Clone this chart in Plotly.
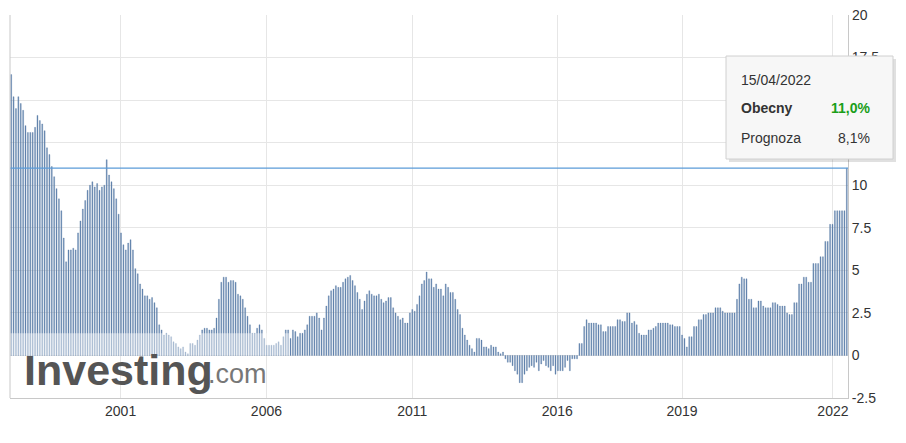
import plotly.graph_objects as go

# monthly CPI y/y (%) left to right
seg1 = [16.5, 15.2, 14.5, 15.2, 14.8, 14.4, 13.5, 13.1, 13.1, 13.1, 13.4, 14.1, 13.8, 13.6,
        13.2, 12.2, 11.8, 11.1, 10.5, 9.8, 9.2, 8.5, 6.9, 5.5, 6.2, 6.2, 6.3, 6.2, 7.2, 7.9,
        8.6, 9.1, 9.7, 10.0, 10.2, 9.9, 10.1, 9.7, 9.9, 10.0, 11.5, 10.6, 10.2, 9.8, 9.2, 8.3,
        7.2, 6.5, 6.2, 6.6, 6.8, 6.2, 5.1, 4.8, 4.2, 3.9]
seg2 = [3.5, 3.5, 3.3, 3.4, 3.1, 2.8, 1.8, 1.5, 1.2, 1.3, 1.2, 1.1, 0.8, 0.7, 0.5, 0.4, 0.5,
        0.2, 0.1, 0.7, 0.7, 0.6, 0.9, 1.2, 1.5, 1.6, 1.6, 1.5, 1.5, 1.6, 2.2, 3.3, 4.3, 4.6,
        4.6, 4.3, 4.4, 4.4, 4.3, 3.6, 3.5, 3.3, 2.8, 2.3, 1.8, 1.3, 1.3, 1.6, 1.8, 1.5, 1.0,
        0.6, 0.6, 0.6, 0.6, 0.7, 0.8, 0.6, 1.1, 1.5, 1.5]
seg3 = [1.0, 1.5, 1.4, 1.1, 1.3, 1.3, 1.5, 1.8, 2.3, 2.3, 2.3, 2.5, 2.2, 1.5, 2.2, 2.9, 3.5,
        3.8, 3.9, 4.1, 4.0, 4.0, 4.3, 4.5, 4.6, 4.7, 4.4, 4.1, 3.7, 3.3, 2.7, 3.2, 3.6, 3.8,
        3.6, 3.5, 3.5, 3.6, 3.3, 3.1, 3.2, 3.4, 3.4, 2.8, 2.5, 2.3, 2.1, 2.2, 1.9, 1.9, 2.5,
        2.7, 2.6, 3.0, 3.5, 4.2, 4.4, 4.9, 4.5]
seg4 = [4.5, 4.0, 4.2, 3.9, 3.9, 3.5, 4.2, 4.0, 3.7, 3.7, 3.3, 2.7, 2.4, 1.6, 1.2, 0.9, 0.6,
        0.4, 0.2, 1.0, 1.0, 0.9, 0.5, 0.5, 0.4, 0.6, 0.5, 0.5, 0.2, 0.1, 0.2, -0.2, -0.4,
        -0.4, -0.6, -0.9, -1.1, -1.6, -1.6, -1.1, -0.9, -0.7, -0.6, -0.7, -0.4, -0.9, -0.5,
        -0.3, -0.6, -0.7, -0.9, -0.6, -1.1, -0.9, -0.9, -0.9, -0.7, -0.3]
seg5 = [-0.9, -0.2, -0.2, -0.2, 0.7, 0.7, 1.7, 2.1, 1.9, 1.9, 1.9, 1.9, 1.8, 1.8, 1.4, 1.4,
        1.7, 1.7, 1.7, 1.7, 2.1, 2.1, 2.0, 2.0, 2.5, 2.5, 1.9, 2.0, 1.8, 1.3, 1.2, 1.2, 1.2,
        1.5, 1.5, 1.6, 1.7, 1.9, 1.9, 1.9, 1.9, 1.9, 1.8, 1.8, 1.7, 1.7, 1.7, 1.2, 1.0, 0.5,
        1.1, 1.1, 1.7, 1.7, 2.1, 2.1, 2.4, 2.4, 2.5]
seg6 = [2.5, 2.5, 2.8, 2.8, 2.8, 2.6, 2.5, 2.5, 2.5, 2.5, 2.5, 3.3, 4.2, 4.6, 4.5, 4.5, 3.3,
        3.3, 2.8, 2.8, 3.2, 3.2, 2.9, 2.8, 2.8, 2.8, 3.1, 3.1, 3.0, 2.9, 2.9, 2.9, 2.5, 2.4,
        2.4, 3.1, 3.1, 4.2, 4.2, 4.6, 4.6, 4.3, 4.3, 5.4, 5.4, 5.4, 5.8, 5.8, 6.7, 6.7, 7.7,
        7.7, 8.5, 8.5, 8.5, 8.5, 8.5, 11.0]
values = seg1 + seg2 + seg3 + seg4 + seg5 + seg6

tick_labels = ["2001", "2006", "2011", "2016", "2019", "2022"]
tick_frac = [0.132, 0.306, 0.480, 0.653, 0.802, 0.982]  # share of the x span
y_ticks = [-2.5, 0, 2.5, 5, 7.5, 10, 12.5, 15, 17.5, 20]
# 12.5 and 15 sit behind the tooltip box
y_labels = ["-2.5", "0", "2.5", "5", "7.5", "10", "", "", "17.5", "20"]
last_value = 11.0

n = len(values)
x = list(range(n))
tick_vals = [f * n - 0.5 for f in tick_frac]

fig = go.Figure(go.Bar(
    x=x, y=values,
    marker=dict(color="#6485b0", line=dict(color="#4a6f9e", width=0.3)),
    hoverinfo="skip",
))

# the page puts the figure 8px in from the window corner
OFF = 8
W, H = 906, 443
x_left, x_right, y_top, y_bot = 10, 848, 15, 398  # plot area in window pixels
L, T = x_left - OFF, y_top - OFF
R, B = W - (x_right - OFF), H - (y_bot - OFF)
pw, ph = x_right - x_left, y_bot - y_top


def px(xp):
    return (xp - x_left) / pw


def py(yp):
    return (y_bot - yp) / ph


grid = "#e6e6e6"
fig.update_layout(
    width=W, height=H, margin=dict(l=L, r=R, t=T, b=B),
    paper_bgcolor="white", plot_bgcolor="white",
    bargap=0.6, showlegend=False,
    font=dict(family="Liberation Sans, Arial", size=14, color="#333"),
    xaxis=dict(range=[-0.5, n - 0.5], tickvals=tick_vals, ticktext=tick_labels,
               showgrid=True, gridcolor=grid, ticks="", zeroline=False, automargin=False,
               showline=True, linecolor="#c8c8c8", mirror=False),
    yaxis=dict(range=[-2.5, 20], side="right", tickvals=y_ticks, ticktext=y_labels,
               showgrid=True, gridcolor=grid, zeroline=False, ticks="", automargin=False,
               showline=True, linecolor="#c8c8c8"),
    shapes=[
        # watermark veil
        dict(type="rect", xref="paper", yref="y", x0=0, x1=px(290), y0=0, y1=1.3,
             fillcolor="white", opacity=0.45, line_width=0, layer="above"),
        # current value line
        dict(type="line", xref="paper", yref="y", x0=0, x1=1, y0=last_value, y1=last_value,
             line=dict(color="#5b9bd8", width=1.2), layer="above"),
        # left border
        dict(type="line", xref="paper", yref="paper", x0=0, x1=0, y0=0, y1=1,
             line=dict(color="#c8c8c8", width=1)),
        # tooltip shadow + box
        dict(type="rect", xref="paper", yref="paper", x0=px(729), x1=px(896),
             y0=py(162), y1=py(59), fillcolor="rgba(0,0,0,0.12)", line_width=0, layer="above"),
        dict(type="rect", xref="paper", yref="paper", x0=px(726), x1=px(893),
             y0=py(159), y1=py(56), fillcolor="#f7f7f7", line=dict(color="#d0d0d0", width=1),
             layer="above"),
    ],
    annotations=[
        # top tick label, which plotly drops at the range edge
        dict(xref="paper", yref="y", x=1, y=20, xanchor="left", yanchor="middle", xshift=2,
             text="20", showarrow=False, font=dict(size=14, color="#333")),
        dict(xref="paper", yref="paper", x=px(22), y=py(370), xanchor="left", yanchor="middle",
             text="<b>Investing</b>", showarrow=False,
             font=dict(size=43, color="#555555", family="Liberation Sans, Arial")),
        dict(xref="paper", yref="paper", x=px(206), y=py(374), xanchor="left", yanchor="middle",
             text=".com", showarrow=False,
             font=dict(size=27, color="#777777", family="Liberation Sans, Arial")),
        dict(xref="paper", yref="paper", x=px(739), y=py(80), xanchor="left", yanchor="middle",
             text="15/04/2022", showarrow=False, font=dict(size=14, color="#333")),
        dict(xref="paper", yref="paper", x=px(739), y=py(108), xanchor="left", yanchor="middle",
             text="<b>Obecny</b>", showarrow=False, font=dict(size=14, color="#333")),
        dict(xref="paper", yref="paper", x=px(872), y=py(108), xanchor="right", yanchor="middle",
             text="<b>11,0%</b>", showarrow=False, font=dict(size=14, color="#1a9e1a")),
        dict(xref="paper", yref="paper", x=px(739), y=py(138), xanchor="left", yanchor="middle",
             text="Prognoza", showarrow=False, font=dict(size=14, color="#333")),
        dict(xref="paper", yref="paper", x=px(872), y=py(138), xanchor="right", yanchor="middle",
             text="8,1%", showarrow=False, font=dict(size=14, color="#333")),
    ],
)

fig.write_html("out.html")
